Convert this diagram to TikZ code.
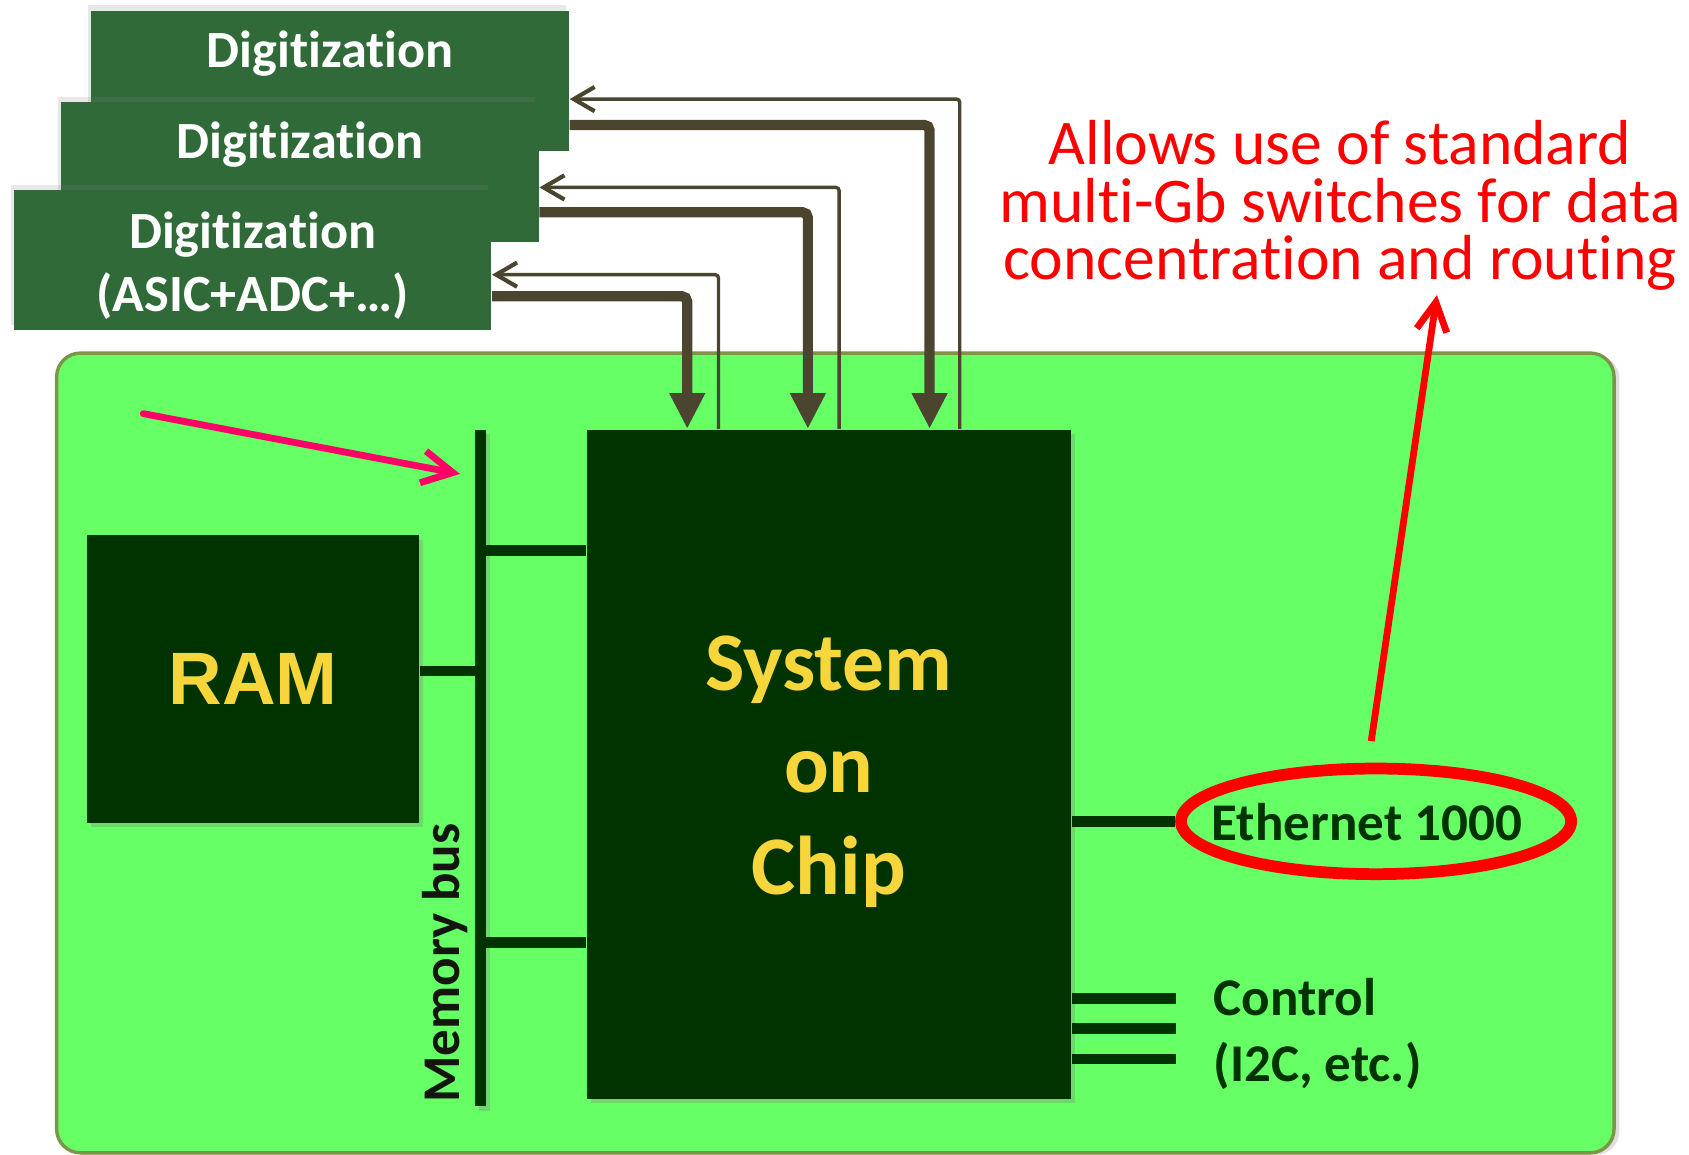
\documentclass[tikz,border=0pt]{standalone}
\usepackage{fontspec}
\setmainfont{Carlito}[Ligatures=NoCommon]
\newfontfamily\ramfont{Liberation Sans}
\usetikzlibrary{arrows.meta,shadows,shapes.geometric}
\definecolor{digigreen}{RGB}{47,106,56}
\definecolor{boardgreen}{RGB}{102,255,102}
\definecolor{boardedge}{RGB}{122,150,70}
\definecolor{chipgreen}{RGB}{0,51,0}
\definecolor{chipyellow}{RGB}{247,214,60}
\definecolor{wirebrown}{RGB}{75,69,48}
\definecolor{pinkarrow}{RGB}{255,0,102}
\definecolor{annotred}{RGB}{255,0,0}
\definecolor{bustext}{RGB}{18,22,14}
\begin{document}
\begin{tikzpicture}[x=0.01cm,y=-0.01cm,
  boardbox/.style={draw=boardedge,line width=0.9pt,fill=boardgreen,rounded corners=0.22cm,
    minimum width=14.45cm,minimum height=7.42cm,inner sep=0pt,
    drop shadow={shadow xshift=0.05cm,shadow yshift=-0.02cm,opacity=0.25}},
  digbox/.style={fill=digigreen,minimum width=4.43cm,minimum height=1.30cm,inner sep=0pt,
    drop shadow={shadow xshift=-0.03cm,shadow yshift=0.05cm,opacity=0.18}},
  digtext/.style={text=white,font=\fontsize{13.8}{16.8}\selectfont\bfseries,align=center,inner sep=0pt},
  chipbox/.style={fill=chipgreen,inner sep=0pt,
    drop shadow={shadow xshift=0.04cm,shadow yshift=-0.04cm,opacity=0.3}},
  chiptext/.style={text=chipyellow,align=center,inner sep=0pt},
  wirelink/.style={draw=chipgreen,line width=2.8pt},
  thickarrow/.style={draw=wirebrown,line width=2.7pt,rounded corners=0.05cm,-{Triangle[length=9.4pt,width=8.8pt]}},
  thinarrow/.style={draw=wirebrown,line width=0.9pt,rounded corners=0.03cm,-{Straight Barb[length=5.5pt,width=6.4pt,line width=1.1pt]}},
  labeltext/.style={text=chipgreen,font=\fontsize{14}{17.4}\selectfont\bfseries,inner sep=0pt},
]
\useasboundingbox (0,0) rectangle (1568,1072);

% board
\node[boardbox] (board) at (775.5,699) {};

% digitization boxes
\node[digbox] (d1) at (306.5,75) {};
\node[digtext,anchor=base] (d1text) at ([yshift=-0.53cm]d1.north) {Digitization};
\node[digbox] (d2) at (278.5,160) {};
\node[digtext,anchor=base] (d2text) at ([yshift=-0.53cm]d2.north) {Digitization};
\node[digbox] (d3) at (234.5,241.5) {};
\node[digtext] (d3text) at ([yshift=-0.05cm]d3.center) {Digitization\\(ASIC+ADC+…)};

% RAM, SoC, bus
\node[chipbox,minimum width=3.08cm,minimum height=2.67cm,chiptext,font=\ramfont\fontsize{19.6}{23}\selectfont\bfseries] (ram) at (235,630.5) {RAM};
\node[chipbox,minimum width=4.49cm,minimum height=6.21cm] (soc) at (769.5,709.5) {};
\node[chiptext,font=\fontsize{22}{27}\selectfont\bfseries] (soctext) at ([yshift=-0.07cm]soc.center) {System\\on\\Chip};
\node[chipbox,minimum width=0.10cm,minimum height=6.28cm] (bus) at (446,713) {};
\node[rotate=90,text=bustext,font=\fontsize{14}{17}\selectfont\bfseries,inner sep=0pt] (buslabel) at (413,894) {Memory bus};

% bus links
\coordinate (yA) at (0,511);
\coordinate (yB) at (0,623);
\coordinate (yC) at (0,875);
\draw[wirelink] (bus.center |- yA) -- (soc.west |- yA);
\draw[wirelink] (ram.east |- yB) -- (bus.center |- yB);
\draw[wirelink] (bus.center |- yC) -- (soc.west |- yC);

% ethernet
\node[ellipse,draw=annotred,line width=3.1pt,minimum width=3.62cm,minimum height=0.98cm,inner sep=0pt] (eth) at (1277.5,762.5) {};
\node[labeltext] (ethlabel) at (1269,763) {Ethernet 1000};
\draw[wirelink] (soc.east |- eth.west) -- (eth.west);

% control
\coordinate (c1) at (1092,927);
\coordinate (c2) at (1092,955);
\coordinate (c3) at (1092,983);
\draw[wirelink] (soc.east |- c1) -- (c1);
\draw[wirelink] (soc.east |- c2) -- (c2);
\draw[wirelink] (soc.east |- c3) -- (c3);
\node[labeltext,align=left,anchor=west] (ctrl) at (1126,960) {Control\\(I2C, etc.)};

% data arrows
\coordinate (f1) at (863,116);
\coordinate (f2) at (750,197);
\coordinate (f3) at (638,275);
\draw[thickarrow] (d1.east |- f1) -| (soc.north -| f1);
\draw[thickarrow] (d2.east |- f2) -| (soc.north -| f2);
\draw[thickarrow] (d3.east |- f3) -| (soc.north -| f3);
% control arrows
\coordinate (r1) at (891,92);
\coordinate (r2) at (779,174);
\coordinate (r3) at (667,255);
\draw[thinarrow] (soc.north -| r1) |- (d1.east |- r1);
\draw[thinarrow] (soc.north -| r2) |- (d2.east |- r2);
\draw[thinarrow] (soc.north -| r3) |- (d3.east |- r3);

% pink arrow
\coordinate (ptail) at (133,384);
\coordinate (ptip) at (427,440);
\draw[pinkarrow,line width=1.8pt,line cap=round,-{Straight Barb[length=8pt,width=8.5pt]}] (ptail) -- (ptip);

% annotation
\node[text=annotred,font=\fontsize{16.8}{15.2}\selectfont,align=center,inner sep=0pt] (note) at (1244,191) {Allows use of standard\\multi-Gb switches for data\\concentration and routing};
\coordinate (rtail) at (1273,688);
\coordinate (rtip) at (1334,274);
\draw[annotred,line width=1.8pt,-{Straight Barb[length=7.5pt,width=8pt]}] (rtail) -- (rtip);
\end{tikzpicture}
\end{document}
